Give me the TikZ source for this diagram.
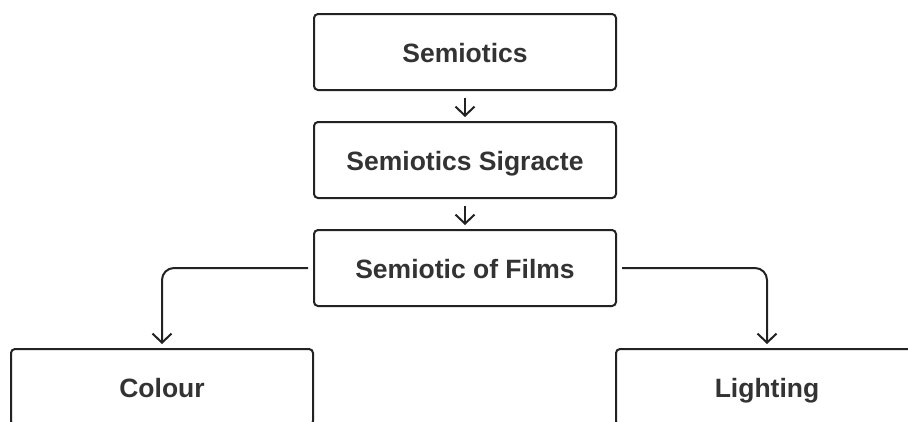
\documentclass[tikz,border=0pt]{standalone}
\usepackage{fontspec}
\setmainfont{Liberation Sans}
\usetikzlibrary{arrows.meta}
\definecolor{txt}{HTML}{333333}
\definecolor{ln}{HTML}{222222}
\tikzset{
  box/.style={draw=ln, line width=2pt, rounded corners=4pt, minimum width=302pt, minimum height=76pt,
    inner sep=0pt, text height=21pt, text depth=1pt, font=\fontsize{26.5}{30}\selectfont\bfseries, text=txt},
  conn/.style={draw=ln, line width=2pt, -{Straight Barb[length=9pt,width=19pt,line width=2pt]}},
}
\begin{document}
\begin{tikzpicture}[x=1pt,y=-1pt]
\useasboundingbox (0,0) rectangle (908,421);
\clip (0,0) rectangle (908,421);
\fill[white] (0,0) rectangle (908,421);
\node[box] (s) at (465,52) {Semiotics};
\node[box] (g) at (465,160) {Semiotics Sigracte};
\node[box] (f) at (465,268) {Semiotic of Films};
\node[box] (c) at (162,387) {Colour};
\node[box] (l) at (767,387) {Lighting};
\draw[conn] ([yshift=-7pt]s.south) -- ([yshift=4pt]g.north);
\draw[conn] ([yshift=-7pt]g.south) -- ([yshift=4pt]f.north);
\draw[conn, rounded corners=12pt] ([xshift=-5pt]f.west) -| ([yshift=4pt]c.north);
\draw[conn, rounded corners=12pt] ([xshift=5pt]f.east) -| ([yshift=4pt]l.north);
\end{tikzpicture}
\end{document}
